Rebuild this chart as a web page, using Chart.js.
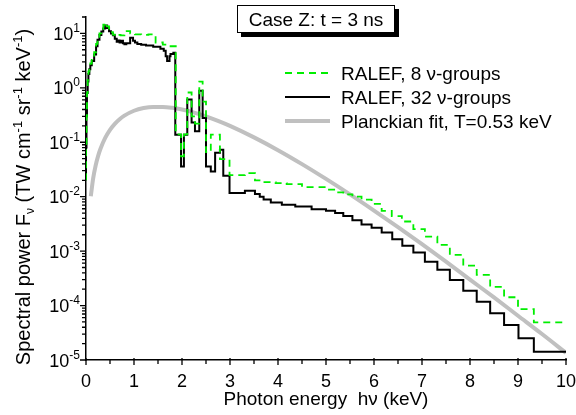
<!DOCTYPE html>
<html>
<head>
<meta charset="utf-8">
<script src="https://cdn.jsdelivr.net/npm/chart.js@4.4.0/dist/chart.umd.min.js"></script>
<style>
  html, body { margin: 0; padding: 0; background: #fff; }
  #wrap { width: 576px; height: 415px; }
</style>
</head>
<body>
<div id="wrap"><canvas id="spectrum" width="576" height="415"></canvas></div>
<script>
// RALEF, 8 groups: left edge of each step (keV), last entry closes the last step
const edges8 = [0, 0.01, 0.02, 0.035, 0.05, 0.07, 0.09, 0.12, 0.17, 0.21,
  0.24, 0.28, 0.32, 0.36, 0.40, 0.43, 0.48, 0.52, 0.56, 0.60,
  0.66, 0.72, 0.80, 0.92, 1.02, 1.15, 1.30, 1.45, 1.60, 1.72,
  1.87, 1.98, 2.04, 2.11, 2.20, 2.27, 2.36, 2.43, 2.50, 2.60,
  2.79, 2.99, 3.31, 3.52, 3.66, 3.95, 4.18, 4.50, 5.00, 5.19,
  5.36, 5.55, 5.74, 5.95, 6.16, 6.37, 6.58, 6.82, 7.06, 7.32,
  7.58, 7.86, 8.14, 8.42, 8.71, 9.00, 9.33, 9.67, 10.0];
const power8 = [0.02, 0.08, 0.3, 0.8, 1.4, 2.0, 2.4, 2.8, 3.4, 4.5,
  6.4, 8.3, 10, 12, 14.5, 15.6, 13.5, 11.5, 10.5, 9.5,
  9.0, 9.4, 9.2, 11, 10, 9.6, 9.4, 9.6, 6.8, 6.2,
  5.8, 0.14, 0.055, 0.14, 0.82, 0.30, 0.22, 1.3, 0.56, 0.066,
  0.138, 0.049, 0.025, 0.027, 0.020, 0.0185, 0.0178, 0.0170, 0.0150, 0.0135,
  0.0120, 0.0110, 0.0100, 0.0088, 0.0074, 0.0055, 0.0044, 0.0035, 0.00254, 0.00185,
  0.0013, 0.00085, 0.00054, 0.000366, 0.00022, 0.000142, 8.6e-5, 4.9e-5, 4.9e-5];

// RALEF, 32 groups
const edges32 = [0, 0.01, 0.02, 0.035, 0.05, 0.07, 0.09, 0.12, 0.17, 0.21,
  0.24, 0.28, 0.32, 0.36, 0.40, 0.44, 0.48, 0.52, 0.56, 0.60,
  0.64, 0.67, 0.70, 0.74, 0.77, 0.80, 0.84, 0.92, 0.98, 1.02,
  1.07, 1.15, 1.25, 1.40, 1.55, 1.62, 1.66, 1.69, 1.74, 1.76,
  1.82, 1.86, 1.98, 2.04, 2.11, 2.20, 2.27, 2.36, 2.43, 2.50,
  2.60, 2.69, 2.79, 2.86, 2.99, 3.31, 3.52, 3.62, 3.70, 3.85,
  4.08, 4.36, 4.70, 5.00, 5.19, 5.36, 5.55, 5.74, 5.95, 6.16,
  6.38, 6.59, 6.82, 7.06, 7.32, 7.58, 7.86, 8.14, 8.42, 8.71,
  9.01, 9.33, 9.67, 10.0];
const power32 = [0.02, 0.08, 0.3, 0.8, 1.3, 1.8, 2.2, 2.6, 3.1, 4.1,
  5.8, 7.6, 9.3, 10.8, 12.3, 14, 12.5, 11, 10, 9.2,
  8.0, 7.0, 7.4, 6.8, 7.3, 6.6, 6.3, 6.6, 8.3, 7.3,
  6.8, 6.4, 6.2, 6.0, 5.7, 5.2, 4.8, 3.8, 3.1, 3.8,
  4.2, 4.4, 0.138, 0.036, 0.138, 0.61, 0.23, 0.16, 0.88, 0.28,
  0.036, 0.029, 0.064, 0.073, 0.0243, 0.0117, 0.0128, 0.0112, 0.0100, 0.0089,
  0.0078, 0.0071, 0.0066, 0.0059, 0.0055, 0.0050, 0.0044, 0.0037, 0.0031, 0.00268,
  0.0022, 0.00166, 0.00125, 0.00094, 0.00064, 0.000453, 0.000296, 0.000188, 0.000118, 7.2e-5,
  4.4e-5, 2.5e-5, 1.42e-5, 1.42e-5];

// Planckian fit
const planckE = [0.1, 0.15, 0.2, 0.25, 0.3, 0.4, 0.5, 0.6, 0.7, 0.8,
  1.0, 1.2, 1.4, 1.6, 1.8, 2.0, 2.25, 2.5, 2.75, 3.0,
  3.5, 4.0, 4.5, 5.0, 5.5, 6.0, 6.5, 7.0, 7.5, 8.0,
  8.5, 9.0, 9.5, 10.0];
const planckF = [0.0102, 0.0219, 0.037, 0.055, 0.075, 0.120, 0.169, 0.218, 0.265, 0.308,
  0.379, 0.425, 0.446, 0.446, 0.429, 0.399, 0.351, 0.299, 0.247, 0.200,
  0.123, 0.0716, 0.0397, 0.0212, 0.0110, 0.00555, 0.00275, 0.00134, 0.00064, 0.00030,
  0.000141, 6.5e-5, 3.0e-5, 1.35e-5];

const xTicks = [0, 1, 2, 3, 4, 5, 6, 7, 8, 9, 10];
const yDecades = [-5, -4, -3, -2, -1, 0, 1];

const FONT = '"Liberation Sans", Arial, Helvetica, sans-serif';
const font = size => size + 'px ' + FONT;
const toPoints = (xs, ys) => xs.map((x, i) => ({ x: x, y: ys[i] }));

// draws rich text (sub/superscripts) left to right starting at x
function drawRich(ctx, parts, x, y) {
  parts.forEach(p => {
    ctx.font = font(p[1]);
    ctx.fillText(p[0], x, y + p[2]);
    x += ctx.measureText(p[0]).width;
  });
}
function richWidth(ctx, parts) {
  return parts.reduce((w, p) => { ctx.font = font(p[1]); return w + ctx.measureText(p[0]).width; }, 0);
}

const decor = {
  id: 'decor',
  afterDraw(chart) {
    const { ctx, chartArea: area, scales: { x, y } } = chart;
    ctx.save();
    ctx.strokeStyle = '#000';
    ctx.fillStyle = '#000';
    ctx.lineWidth = 1.3;

    // tick marks
    ctx.beginPath();
    for (let v = 0; v <= 10; v += 0.5) {
      const px = x.getPixelForValue(v);
      const major = v % 1 === 0;
      ctx.moveTo(px, area.bottom - (major ? 2 : 0));
      ctx.lineTo(px, area.bottom + (major ? 5 : 4));
    }
    yDecades.forEach(d => {
      for (let m = 1; m <= 9; m++) {
        const v = m * Math.pow(10, d);
        if (v > y.max * 1.0001) break;
        const py = y.getPixelForValue(v);
        ctx.moveTo(area.left, py);
        ctx.lineTo(area.left - (m === 1 ? 6 : 4), py);
      }
    });
    ctx.stroke();

    // x tick labels
    ctx.font = font(18);
    ctx.textAlign = 'center';
    ctx.textBaseline = 'alphabetic';
    xTicks.forEach(v => ctx.fillText(String(v), x.getPixelForValue(v), area.bottom + 27));

    // y tick labels 10^n
    ctx.textAlign = 'left';
    yDecades.forEach(d => {
      const py = y.getPixelForValue(Math.pow(10, d));
      const parts = [['10', 18, 0], [String(d), 12, -8]];
      const w = richWidth(ctx, parts);
      drawRich(ctx, parts, 80 - w, py + 6.5);
    });

    // axis titles
    ctx.font = font(19);
    ctx.textAlign = 'center';
    ctx.fillText('Photon energy  h\u03BD (keV)', (area.left + area.right) / 2, 405);

    ctx.save();
    ctx.translate(23, 197);
    ctx.rotate(-Math.PI / 2);
    ctx.textAlign = 'left';
    const yTitle = [['Spectral power F', 20, 0], ['\u03BD', 12, 4], [' (TW cm', 20, 0], ['-1', 13, -8],
      [' sr', 20, 0], ['-1', 13, -8], [' keV', 20, 0], ['-1', 13, -8], [')', 20, 0]];
    drawRich(ctx, yTitle, -richWidth(ctx, yTitle) / 2, 7);
    ctx.restore();

    // case box with drop shadow
    ctx.fillStyle = '#000';
    ctx.fillRect(241, 9, 158, 28);
    ctx.fillStyle = '#fff';
    ctx.fillRect(237, 5, 158, 28);
    ctx.lineWidth = 1;
    ctx.strokeRect(237.5, 5.5, 157, 27);
    ctx.fillStyle = '#000';
    ctx.font = font(19);
    ctx.textAlign = 'center';
    ctx.fillText('Case Z: t = 3 ns', 316, 26);

    // legend from the datasets
    ctx.textAlign = 'left';
    chart.data.datasets.forEach((ds, i) => {
      const ly = 73 + i * 24;
      ctx.beginPath();
      ctx.strokeStyle = ds.borderColor;
      ctx.lineWidth = ds.borderWidth;
      ctx.setLineDash(ds.borderDash || []);
      ctx.moveTo(285, ly);
      ctx.lineTo(330, ly);
      ctx.stroke();
      ctx.setLineDash([]);
      ctx.fillStyle = '#000';
      ctx.font = font(19);
      ctx.fillText(ds.label, 341, ly + 7);
    });
    ctx.restore();
  }
};

new Chart(document.getElementById('spectrum'), {
  type: 'line',
  data: {
    datasets: [
      {
        label: 'RALEF, 8 \u03BD-groups',
        data: toPoints(edges8, power8),
        stepped: 'after',
        borderColor: '#00ee00',
        borderWidth: 1.8,
        borderDash: [7, 5],
        pointRadius: 0,
        fill: false
      },
      {
        label: 'RALEF, 32 \u03BD-groups',
        data: toPoints(edges32, power32),
        stepped: 'after',
        borderColor: '#000000',
        borderWidth: 2,
        pointRadius: 0,
        fill: false
      },
      {
        label: 'Planckian fit, T=0.53 keV',
        data: toPoints(planckE, planckF),
        borderColor: '#c0c0c0',
        borderWidth: 4,
        pointRadius: 0,
        cubicInterpolationMode: 'monotone',
        fill: false
      }
    ]
  },
  options: {
    responsive: false,
    animation: false,
    layout: { padding: { left: 86, right: 10, top: 17, bottom: 55 } },
    plugins: { legend: { display: false }, tooltip: { enabled: false } },
    scales: {
      x: {
        type: 'linear', min: 0, max: 10,
        grid: { display: false, drawTicks: false },
        border: { display: true, color: '#000', width: 1.5 },
        ticks: { display: false }
      },
      y: {
        type: 'logarithmic', min: 1e-5, max: 20,
        grid: { display: false, drawTicks: false },
        border: { display: true, color: '#000', width: 1.5 },
        ticks: { display: false }
      }
    }
  },
  plugins: [decor]
});
</script>
</body>
</html>
